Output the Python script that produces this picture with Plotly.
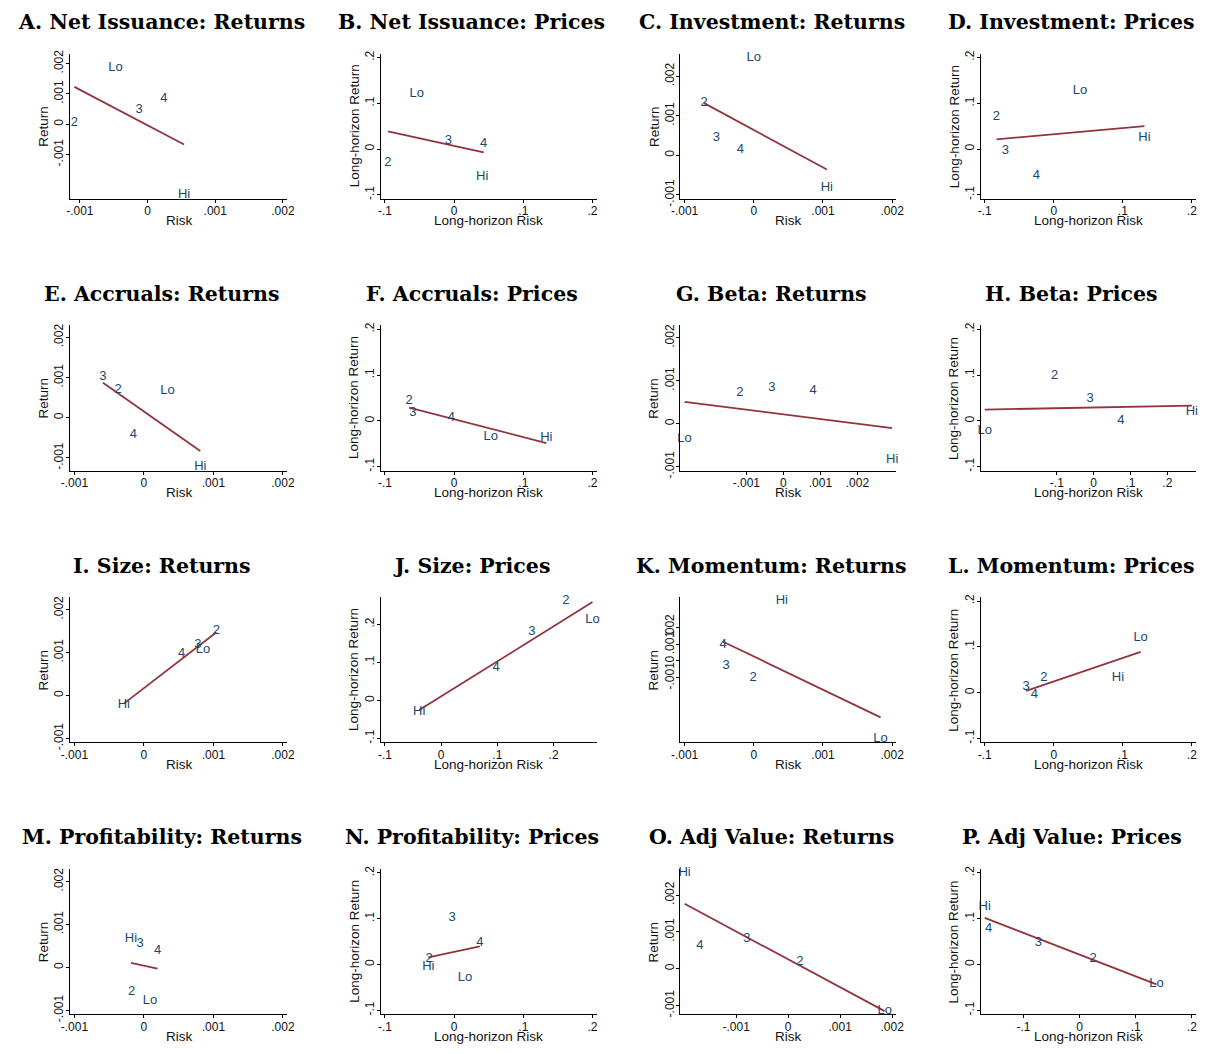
import numpy as np
import plotly.graph_objects as go

# ---------------- data (labels in order Lo, 2, 3, 4, Hi) ----------------
quintiles = ["Lo", "2", "3", "4", "Hi"]

titles = [
    "A. Net Issuance: Returns", "B. Net Issuance: Prices",
    "C. Investment: Returns", "D. Investment: Prices",
    "E. Accruals: Returns", "F. Accruals: Prices",
    "G. Beta: Returns", "H. Beta: Prices",
    "I. Size: Returns", "J. Size: Prices",
    "K. Momentum: Returns", "L. Momentum: Prices",
    "M. Profitability: Returns", "N. Profitability: Prices",
    "O. Adj Value: Returns", "P. Adj Value: Prices",
]

# Returns panels: risk / return
A_x = [-0.000472, -0.00108, -0.000124, 0.000242, 0.00054]
A_y = [0.001856, 0.000033, 0.000467, 0.000833, -0.00233]
C_x = [0.0, -0.000717, -0.000539, -0.000194, 0.001056]
C_y = [0.002475, 0.001339, 0.000441, 0.000153, -0.000831]
E_x = [0.000339, -0.000372, -0.000589, -0.00015, 0.000811]
E_y = [0.000675, 0.000692, 0.001008, -0.000425, -0.001217]
G_x = [-0.002667, -0.001177, -0.000313, 0.000802, 0.002938]
G_y = [-0.000339, 0.000724, 0.000827, 0.000764, -0.000835]
I_x = [0.00085, 0.001044, 0.000778, 0.000544, -0.000289]
I_y = [0.00107, 0.0015, 0.001188, 0.000977, -0.00022]
K_x = [0.001833, -0.000011, -0.0004, -0.000444, 0.000406]
K_y = [-0.00466, -0.001, -0.0003, 0.00096, 0.0036]
M_x = [0.000088, -0.000176, -0.000054, 0.000196, -0.000186]
M_y = [-0.000772, -0.000569, 0.000553, 0.000382, 0.000662]
O_x = [0.001856, 0.000227, -0.000795, -0.0017, -0.001992]
O_y = [-0.00113, 0.000191, 0.000809, 0.000618, 0.0026]

# Prices panels: long-horizon risk / long-horizon return
B_x = [-0.0539, -0.0956, -0.0083, 0.0428, 0.0406]
B_y = [0.1207, -0.0305, 0.0182, 0.0109, -0.0596]
D_x = [0.0379, -0.083, -0.0703, -0.0253, 0.1313]
D_y = [0.128, 0.0705, -0.0029, -0.059, 0.0245]
F_x = [0.0528, -0.065, -0.0594, -0.0039, 0.1333]
F_y = [-0.0356, 0.0444, 0.0167, 0.0073, -0.0378]
H_x = [-0.2958, -0.1063, -0.0094, 0.074, 0.2667]
H_y = [-0.0216, 0.0978, 0.0489, 0.0007, 0.019]
J_x = [0.2692, 0.2219, 0.1616, 0.0979, -0.039]
J_y = [0.2131, 0.2611, 0.1808, 0.0847, -0.0306]
L_x = [0.1258, -0.0143, -0.0401, -0.028, 0.0929]
L_y = [0.1194, 0.0324, 0.0129, -0.005, 0.0331]
N_x = [0.0156, -0.0361, -0.0028, 0.0372, -0.0372]
N_y = [-0.0284, 0.0131, 0.1025, 0.048, -0.0051]
P_x = [0.137, 0.024, -0.0733, -0.162, -0.169]
P_y = [-0.041, 0.0115, 0.0475, 0.0791, 0.1266]

ret_ticks = [-0.001, 0, 0.001, 0.002]
prc_ticks = [-0.1, 0, 0.1, 0.2]

panels = [
    (A_x, A_y, "ret"), (B_x, B_y, "prc"), (C_x, C_y, "ret"), (D_x, D_y, "prc"),
    (E_x, E_y, "ret"), (F_x, F_y, "prc"), (G_x, G_y, "ret"), (H_x, H_y, "prc"),
    (I_x, I_y, "ret"), (J_x, J_y, "prc"), (K_x, K_y, "ret"), (L_x, L_y, "prc"),
    (M_x, M_y, "ret"), (N_x, N_y, "prc"), (O_x, O_y, "ret"), (P_x, P_y, "prc"),
]

# ---------------- layout constants ----------------
# The page body keeps the browser's default 8px margin, so the figure is
# 16px smaller than the window and all page positions are offset by 8px.
OFF = 8
W, H = 1212 - 2 * OFF, 1054 - 2 * OFF
col_left = [62 - OFF, 377 - OFF, 681 - OFF, 985.5 - OFF]
col_width = [220, 219, 219, 218.5]
row_top = [50 - OFF, 325 - OFF, 600 - OFF, 875 - OFF]
title_y = [18 - OFF + 275 * k for k in range(4)]
PH = 147

NAVY = "#1a476f"
MAROON = "#90353b"
SANS = "Liberation Sans, Arial, sans-serif"
SERIF = "DejaVu Serif, serif"


def fmt(v):
    if abs(v) < 1e-12:
        return "0"
    s = f"{v:g}"
    return s.replace("0.", ".")


fig = go.Figure()
annotations = []
layout_axes = {}

for i, (xs, ys, kind) in enumerate(panels):
    r, c = divmod(i, 4)
    n = i + 1
    xa = "x" if n == 1 else f"x{n}"
    ya = "y" if n == 1 else f"y{n}"
    xs = np.array(xs)
    ys = np.array(ys)
    ticks = ret_ticks if kind == "ret" else prc_ticks
    ytop_floor = 0.0022 if kind == "ret" else 0.2

    lx = min(xs.min(), ticks[0]); hx = max(xs.max(), ticks[-1])
    px = 0.02 * (hx - lx)
    ly = min(ys.min(), ticks[0]); hy = max(ys.max(), ytop_floor)
    py = 0.029 * (hy - ly)

    left = col_left[c]; top = row_top[r]; PW = col_width[c]
    xdom = [left / W, min(1.0, (left + PW) / W)]
    ydom = [1 - (top + PH) / H, 1 - top / H]

    axis_common = dict(
        showline=True, linecolor="black", linewidth=1,
        ticks="outside", ticklen=3, tickwidth=1, tickcolor="black",
        showgrid=False, zeroline=False,
        tickfont=dict(family=SANS, size=12, color="#111"),
        tickmode="array", tickvals=ticks, ticktext=[fmt(t) for t in ticks],
        ticklabelstandoff=-2,
        fixedrange=True,
    )
    layout_axes[("xaxis" if n == 1 else f"xaxis{n}")] = dict(
        axis_common, domain=xdom, range=[lx - px, hx + px], anchor=ya,
    )
    layout_axes[("yaxis" if n == 1 else f"yaxis{n}")] = dict(
        axis_common, domain=ydom, range=[ly - py, hy + py], anchor=xa,
        tickangle=-90,
    )

    # fitted line (least squares through the quintile points)
    slope, icpt = np.polyfit(xs, ys, 1)
    xl = np.array([xs.min(), xs.max()])
    fig.add_trace(go.Scatter(
        x=xl, y=icpt + slope * xl, mode="lines",
        line=dict(color=MAROON, width=1.8),
        xaxis=xa, yaxis=ya, showlegend=False, hoverinfo="skip",
    ))
    fig.add_trace(go.Scatter(
        x=xs, y=ys, mode="text", text=quintiles, textposition="middle center",
        textfont=dict(family=SANS, size=13, color=NAVY),
        cliponaxis=False, xaxis=xa, yaxis=ya, showlegend=False,
    ))

    # titles
    title_cx = ((left - 34) + (left + PW)) / 2
    annotations.append(dict(
        text="<b>" + titles[i] + "</b>", x=title_cx / W, y=1 - title_y[r] / H,
        xref="paper", yref="paper", xanchor="center", yanchor="middle",
        showarrow=False, font=dict(family=SERIF, size=20.5, color="black"),
    ))
    xt = "Risk" if kind == "ret" else "Long-horizon Risk"
    yt = "Return" if kind == "ret" else "Long-horizon Return"
    annotations.append(dict(
        text=xt, x=(left + PW / 2) / W, y=1 - (top + PH + 22) / H,
        xref="paper", yref="paper", xanchor="center", yanchor="middle",
        showarrow=False, font=dict(family=SANS, size=13.5, color="#111"),
    ))
    annotations.append(dict(
        text=yt, x=(left - 27) / W, y=1 - (top + PH / 2) / H,
        xref="paper", yref="paper", xanchor="center", yanchor="middle",
        textangle=-90, showarrow=False, font=dict(family=SANS, size=13.5, color="#111"),
    ))

fig.update_layout(
    width=W, height=H, margin=dict(l=0, r=0, t=0, b=0),
    paper_bgcolor="white", plot_bgcolor="white",
    annotations=annotations, **layout_axes,
)

fig.write_html("out.html", config={"displayModeBar": False})
